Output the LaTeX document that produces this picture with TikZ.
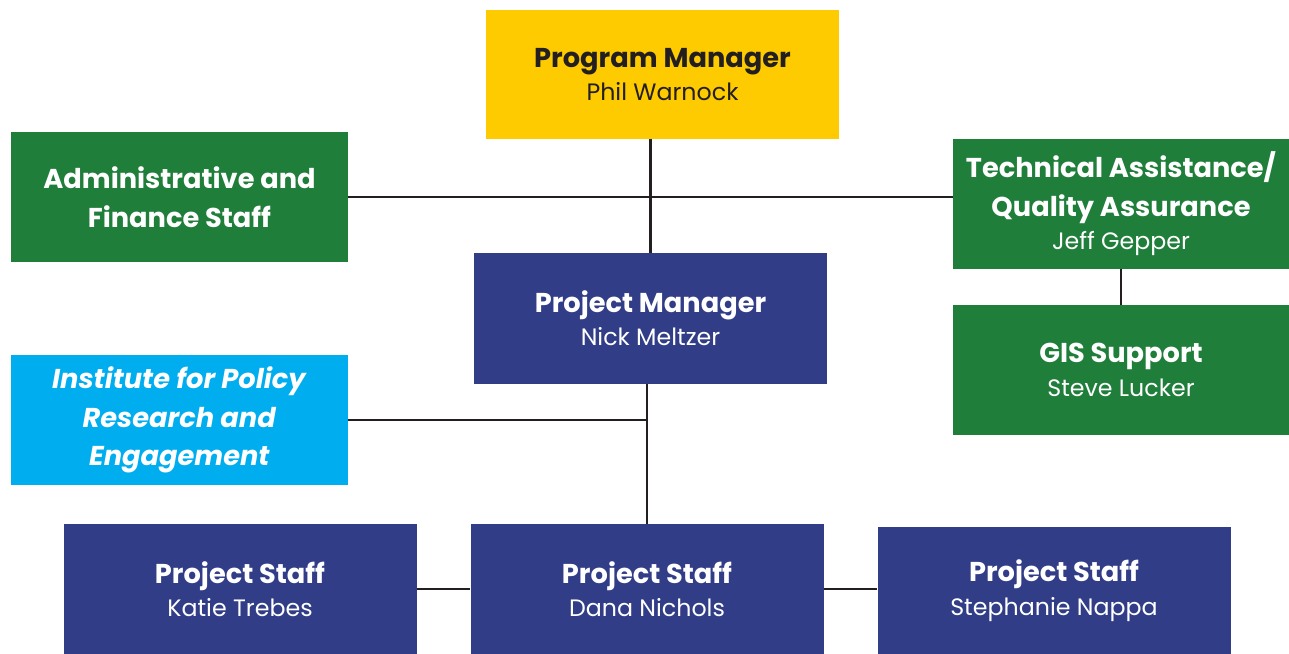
\documentclass[tikz,border=0pt]{standalone}
\usepackage{fontspec}
\setmainfont{Poppins}
\definecolor{pmyellow}{RGB}{254,203,0}
\definecolor{orggreen}{RGB}{31,126,58}
\definecolor{orgnavy}{RGB}{49,61,135}
\definecolor{orgblue}{RGB}{0,174,239}
\definecolor{orgtext}{RGB}{35,31,32}
\tikzset{
  orgbox/.style={rectangle, inner sep=0pt, minimum width=7.06cm, minimum height=2.6cm, align=center, text=white, font=\fontsize{15.5}{22}\selectfont},
  link/.style={draw=orgtext, line width=1.3pt}
}
\newcommand{\who}[1]{\fontsize{13.5}{20}\selectfont #1}
\begin{document}
\begin{tikzpicture}
% page frame (1px = 0.02cm)
\useasboundingbox (0,0) rectangle (25.78,-13.08);

% Draw the boxes
\node[orgbox, fill=pmyellow, text=orgtext, minimum height=2.58cm] (pgm) at (13.25, -1.49) {\textbf{Program Manager}\\[-3pt] \who{Phil Warnock}};
\node[orgbox, fill=orggreen, minimum width=6.74cm] (admin) at (3.59, -3.94) {\textbf{Administrative and}\\ \textbf{Finance Staff}};
\node[orgbox, fill=orggreen, minimum width=6.72cm] (tech) at (22.42, -4.08) {\textbf{Technical Assistance/}\\ \textbf{Quality Assurance}\\[-3pt] \who{Jeff Gepper}};
\node[orgbox, fill=orggreen, minimum width=6.72cm] (gis) at (22.42, -7.40) {\textbf{GIS Support}\\[-3pt] \who{Steve Lucker}};
\node[orgbox, fill=orgnavy, minimum height=2.62cm] (pm) at (13.01, -6.37) {\textbf{Project Manager}\\[-3pt] \who{Nick Meltzer}};
\node[orgbox, fill=orgblue, minimum width=6.74cm] (inst) at (3.59, -8.40) {\textbf{\itshape Institute for Policy}\\ \textbf{\itshape Research and}\\ \textbf{\itshape Engagement}};
\node[orgbox, fill=orgnavy] (katie) at (4.80, -11.78) {\textbf{Project Staff}\\[-3pt] \who{Katie Trebes}};
\node[orgbox, fill=orgnavy] (dana) at (12.94, -11.78) {\textbf{Project Staff}\\[-3pt] \who{Dana Nichols}};
\node[orgbox, fill=orgnavy, minimum height=2.54cm] (steph) at (21.08, -11.81) {\textbf{Project Staff}\\[-3pt] \who{Stephanie Nappa}};

% Connectors
\draw[link] (pm.north |- pgm.south) -- (pm.north);
\draw[link] (admin.east) -- (admin.east -| tech.west);
\draw[link] (tech.south) -- (gis.north);
\draw[link] (pm.south -| dana.north) -- (dana.north);
\draw[link] (inst.east) -- (inst.east -| dana.north);
\draw[link] (katie.east) -- (dana.west);
\draw[link] (dana.east) -- (dana.east -| steph.west);
\end{tikzpicture}
\end{document}
